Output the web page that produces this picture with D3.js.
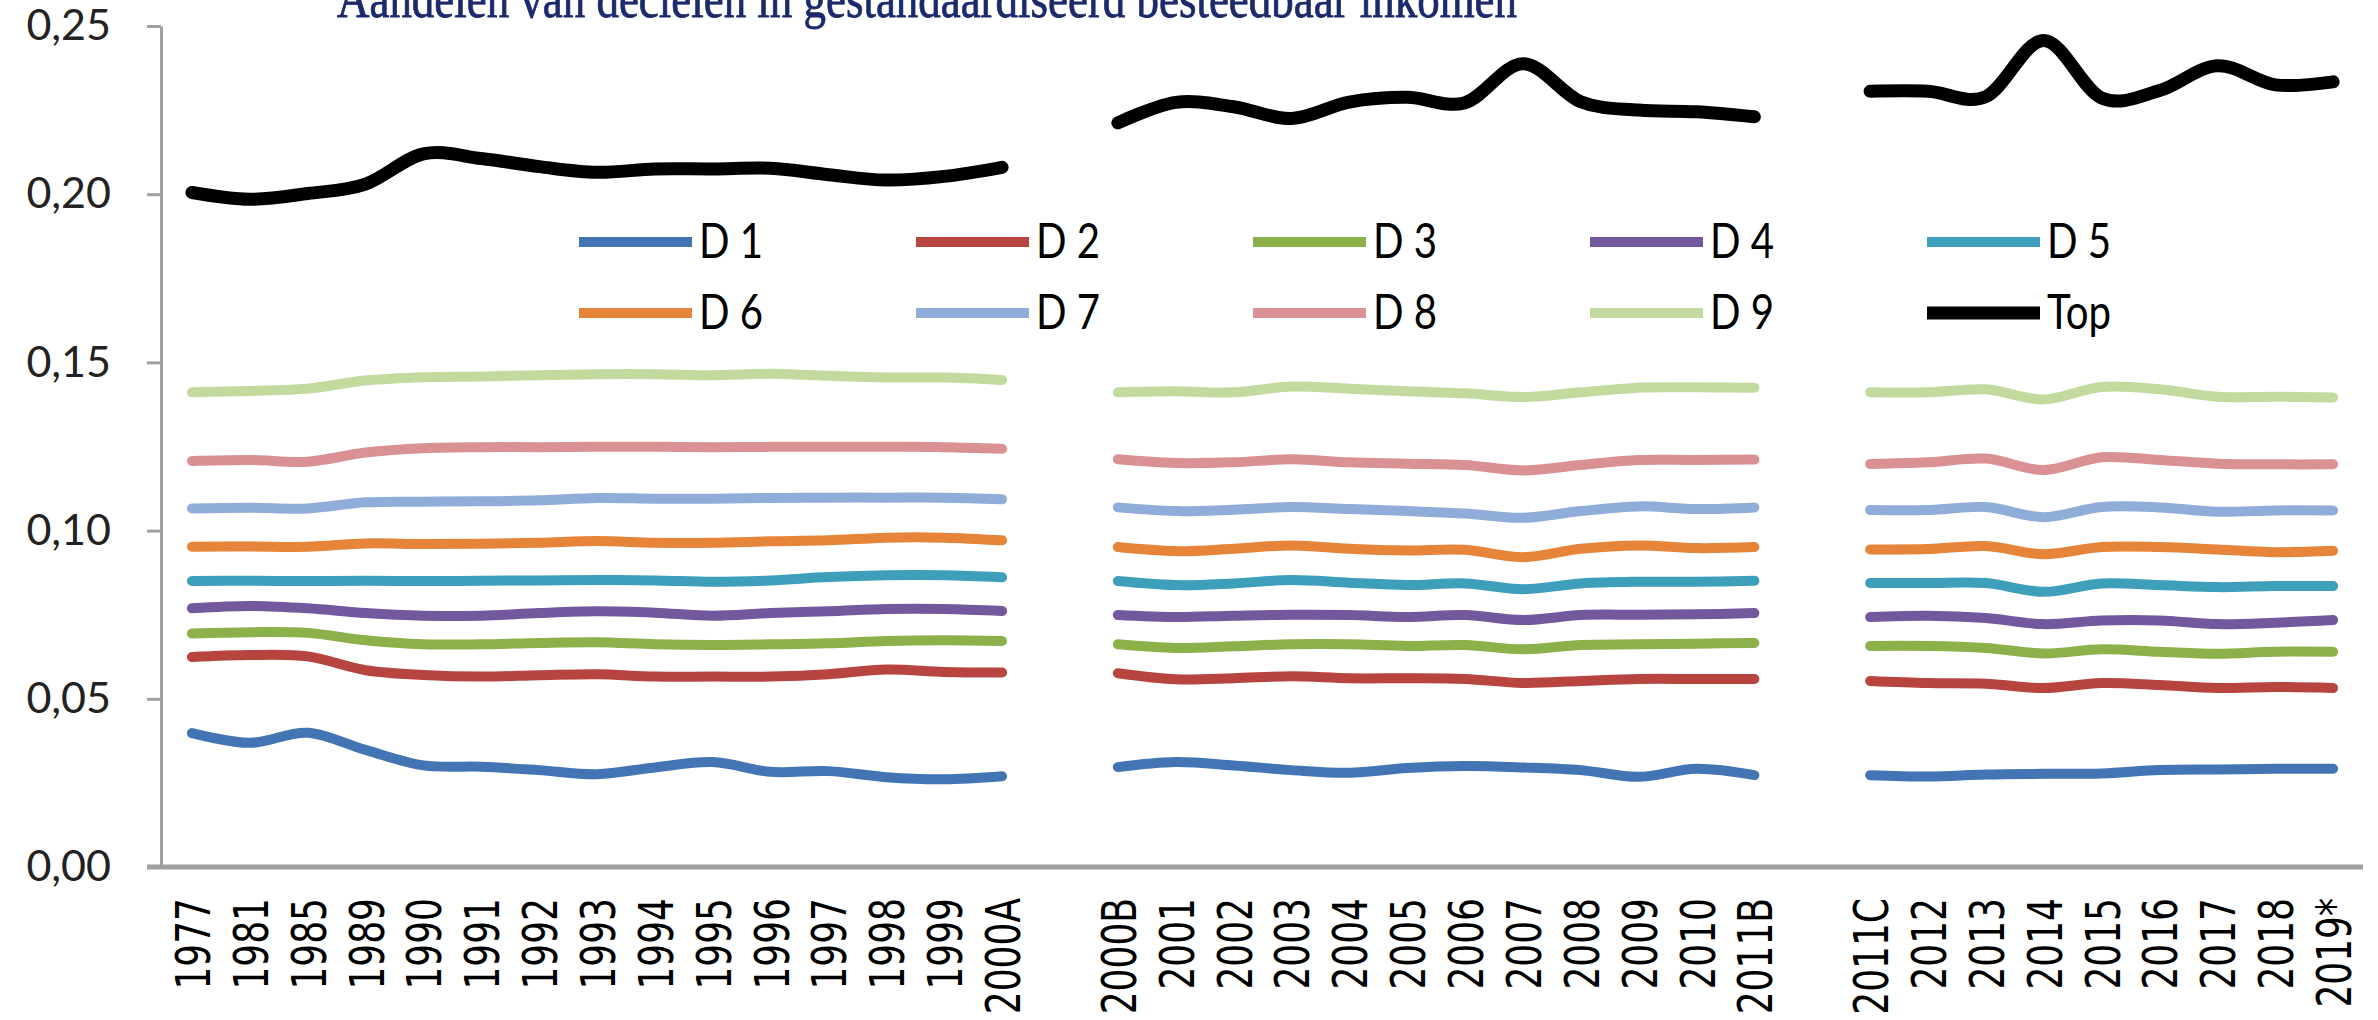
<!DOCTYPE html>
<html>
<head>
<meta charset="utf-8">
<script src="https://cdn.jsdelivr.net/npm/d3@7"></script>
<style>
  html, body { margin: 0; padding: 0; background: #fff; }
  svg { display: block; }
</style>
</head>
<body>
<div id="chart"></div>
<script>
// categories (two empty slots separate the three series breaks)
var categories = ["1977","1981","1985","1989","1990","1991","1992","1993","1994","1995","1996","1997","1998","1999","2000A",
  "gap1",
  "2000B","2001","2002","2003","2004","2005","2006","2007","2008","2009","2010","2011B",
  "gap2",
  "2011C","2012","2013","2014","2015","2016","2017","2018","2019*"];

var d1 = [0.0398,0.0369,0.0399,0.0348,0.0302,0.0298,0.0288,0.0276,0.0296,0.0312,0.0283,0.0285,0.0267,0.0261,0.0270, null,
  0.0297,0.0312,0.0302,0.0288,0.0280,0.0294,0.0300,0.0296,0.0288,0.0268,0.0292,0.0273, null,
  0.0273,0.0269,0.0275,0.0277,0.0278,0.0288,0.0290,0.0292,0.0292];
var d2 = [0.0624,0.0630,0.0626,0.0585,0.0571,0.0566,0.0570,0.0573,0.0566,0.0566,0.0566,0.0573,0.0587,0.0580,0.0578, null,
  0.0576,0.0558,0.0561,0.0567,0.0561,0.0561,0.0559,0.0547,0.0553,0.0559,0.0559,0.0559, null,
  0.0553,0.0547,0.0545,0.0532,0.0547,0.0541,0.0532,0.0535,0.0532];
var d3v = [0.0694,0.0698,0.0696,0.0674,0.0662,0.0662,0.0666,0.0668,0.0662,0.0660,0.0662,0.0665,0.0672,0.0674,0.0672, null,
  0.0662,0.0651,0.0656,0.0662,0.0662,0.0657,0.0660,0.0647,0.0660,0.0662,0.0664,0.0666, null,
  0.0657,0.0657,0.0651,0.0635,0.0647,0.0640,0.0634,0.0640,0.0640];
var d4 = [0.0769,0.0776,0.0769,0.0755,0.0747,0.0747,0.0755,0.0760,0.0756,0.0747,0.0755,0.0760,0.0767,0.0767,0.0761, null,
  0.0749,0.0743,0.0747,0.0750,0.0749,0.0743,0.0749,0.0734,0.0749,0.0750,0.0751,0.0755, null,
  0.0743,0.0747,0.0740,0.0722,0.0733,0.0733,0.0722,0.0726,0.0734];
var d5 = [0.0850,0.0851,0.0850,0.0851,0.0850,0.0851,0.0852,0.0853,0.0852,0.0848,0.0852,0.0862,0.0867,0.0867,0.0861, null,
  0.0850,0.0838,0.0843,0.0853,0.0845,0.0838,0.0843,0.0826,0.0843,0.0848,0.0848,0.0851, null,
  0.0844,0.0844,0.0844,0.0818,0.0843,0.0838,0.0832,0.0835,0.0835];
var d6 = [0.0952,0.0953,0.0952,0.0962,0.0960,0.0961,0.0964,0.0969,0.0964,0.0964,0.0968,0.0971,0.0979,0.0979,0.0971, null,
  0.0951,0.0939,0.0946,0.0956,0.0946,0.0941,0.0943,0.0921,0.0946,0.0956,0.0948,0.0951, null,
  0.0944,0.0945,0.0954,0.0930,0.0951,0.0951,0.0944,0.0936,0.0940];
var d7 = [0.1066,0.1068,0.1066,0.1084,0.1086,0.1087,0.1090,0.1097,0.1095,0.1095,0.1097,0.1098,0.1098,0.1098,0.1093, null,
  0.1069,0.1058,0.1062,0.1070,0.1064,0.1058,0.1051,0.1038,0.1058,0.1072,0.1064,0.1069, null,
  0.1061,0.1061,0.1070,0.1040,0.1070,0.1069,0.1056,0.1060,0.1060];
var d8 = [0.1207,0.1210,0.1205,0.1232,0.1245,0.1248,0.1248,0.1249,0.1249,0.1248,0.1249,0.1249,0.1249,0.1248,0.1243, null,
  0.1212,0.1201,0.1203,0.1212,0.1203,0.1199,0.1195,0.1179,0.1195,0.1210,0.1210,0.1211, null,
  0.1198,0.1203,0.1214,0.1180,0.1218,0.1210,0.1199,0.1197,0.1197];
var d9 = [0.1411,0.1415,0.1422,0.1446,0.1456,0.1458,0.1462,0.1465,0.1465,0.1462,0.1466,0.1460,0.1455,0.1455,0.1448, null,
  0.1411,0.1414,0.1411,0.1428,0.1422,0.1414,0.1408,0.1397,0.1411,0.1425,0.1426,0.1425, null,
  0.1411,0.1411,0.1420,0.1390,0.1427,0.1420,0.1398,0.1398,0.1396];
var top10 = [0.2005,0.1985,0.2002,0.2030,0.2120,0.2106,0.2082,0.2065,0.2075,0.2075,0.2077,0.2058,0.2042,0.2053,0.2080, null,
  0.2212,0.2273,0.2260,0.2225,0.2274,0.2288,0.2272,0.2388,0.2275,0.2250,0.2245,0.2230, null,
  0.2306,0.2306,0.2290,0.2457,0.2286,0.2308,0.2382,0.2325,0.2334];

var seriesNames = ["D 1","D 2","D 3","D 4","D 5","D 6","D 7","D 8","D 9","Top"];
var seriesValues = [d1, d2, d3v, d4, d5, d6, d7, d8, d9, top10];
var seriesColors = ["#4375b5","#b84440","#8cb04a","#74589e","#3d9fb9","#e6843a","#90acd8","#da9194","#c2da9e","#000000"];
var yTicks = [0, 0.05, 0.10, 0.15, 0.20, 0.25];

var title = "Aandelen van decielen in gestandaardiseerd besteedbaar inkomen";

var W = 2378, H = 1020;
var svg = d3.select("#chart").append("svg")
    .attr("width", W)
    .attr("height", H)
    .style("background", "#fff");

var x = d3.scalePoint().domain(categories).range([163, 2362]).padding(0.5);
var y = d3.scaleLinear().domain([0, 0.25]).range([867, 26]);

// title, cut off at the top like in the source
svg.append("text")
    .attr("x", 337)
    .attr("y", 17)
    .attr("textLength", 1180)
    .attr("lengthAdjust", "spacingAndGlyphs")
    .style("font-family", "'Liberation Serif', 'DejaVu Serif', serif")
    .style("font-size", "54px")
    .style("stroke", "#1c2a6b")
    .style("stroke-width", 0.8)
    .style("fill", "#1c2a6b")
    .text(title);

// y axis
var fmt = function(d) { return d3.format(".2f")(d).replace(".", ","); };
var yAxis = svg.append("g")
    .attr("transform", "translate(161,0)")
    .call(d3.axisLeft(y).tickValues(yTicks).tickFormat(fmt).tickSize(14).tickSizeOuter(0).tickPadding(36));
yAxis.select(".domain").attr("stroke", "#a0a0a0").attr("stroke-width", 3);
yAxis.selectAll(".tick line").attr("stroke", "#a0a0a0").attr("stroke-width", 3);
yAxis.selectAll(".tick text")
    .style("font-family", "Lato, 'Open Sans', sans-serif")
    .style("font-size", "43px")
    .style("fill", "#222");

// x axis
var xAxis = svg.append("g")
    .attr("transform", "translate(0," + y(0) + ")")
    .call(d3.axisBottom(x).tickSize(0).tickSizeOuter(0).tickFormat(function(d) { return d.indexOf("gap") === 0 ? "" : d; }));
xAxis.select(".domain").attr("d", "M147,0H2363").attr("stroke", "#a0a0a0").attr("stroke-width", 5);
xAxis.selectAll(".tick text")
    .attr("text-anchor", "end")
    .attr("dy", "0.36em")
    .attr("y", 0)
    .attr("transform", "translate(0,31) scale(1.35,1) rotate(-90)")
    .style("font-family", "'DejaVu Sans', Verdana, sans-serif")
    .style("font-size", "36px")
    .style("fill", "#000");

// lines
var line = d3.line()
    .defined(function(d) { return d.v !== null; })
    .x(function(d) { return x(d.c); })
    .y(function(d) { return y(d.v); })
    .curve(d3.curveCardinal.tension(0));

seriesValues.forEach(function(vals, i) {
    var pts = categories.map(function(c, j) { return { c: c, v: vals[j] }; });
    svg.append("path")
        .datum(pts)
        .attr("fill", "none")
        .attr("stroke", seriesColors[i])
        .attr("stroke-width", i === 9 ? 13 : 10)
        .attr("stroke-linecap", "round")
        .attr("stroke-linejoin", "round")
        .attr("d", line);
});

// legend, 2 rows x 5 columns
var legend = svg.append("g");
seriesNames.forEach(function(name, i) {
    var col = i % 5, row = Math.floor(i / 5);
    var lx = 579 + col * 337, ly = 242 + row * 71;
    legend.append("line")
        .attr("x1", lx).attr("x2", lx + 113)
        .attr("y1", ly).attr("y2", ly)
        .attr("stroke", seriesColors[i])
        .attr("stroke-width", i === 9 ? 13 : 10);
    legend.append("text")
        .attr("transform", "translate(" + (lx + 120) + "," + (ly + 16) + ") scale(0.82,1)")
        .style("font-family", "Lato, 'Open Sans', sans-serif")
        .style("font-size", "49px")
        .style("fill", "#000")
        .text(name);
});
</script>
</body>
</html>
